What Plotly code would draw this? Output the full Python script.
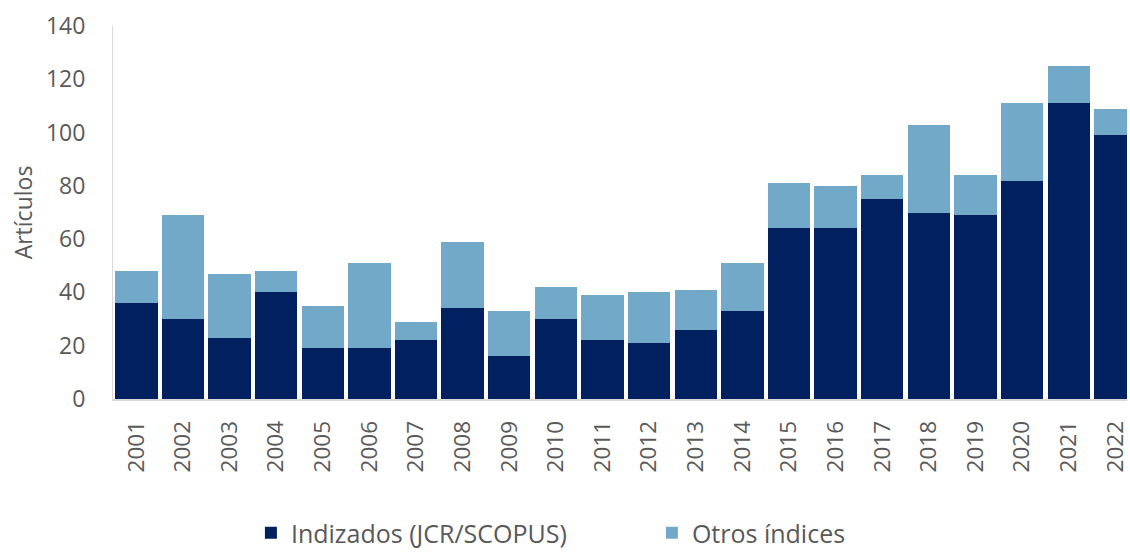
import plotly.graph_objects as go

years = [str(y) for y in range(2001, 2023)]
indizados = [36, 30, 23, 40, 19, 19, 22, 34, 16, 30, 22, 21, 26, 33, 64, 64, 75, 70, 69, 82, 111, 99]
otros = [12, 39, 24, 8, 16, 32, 7, 25, 17, 12, 17, 19, 15, 18, 17, 16, 9, 33, 15, 29, 14, 10]

DARK = "#002060"
LIGHT = "#72A9C9"
TXT = "#595959"
FONT = "Open Sans"

fig = go.Figure()
fig.add_trace(go.Bar(x=years, y=indizados, name="Indizados (JCR/SCOPUS)",
                     marker=dict(color=DARK, line=dict(width=0))))
fig.add_trace(go.Bar(x=years, y=otros, name="Otros índices",
                     marker=dict(color=LIGHT, line=dict(width=0))))

fig.update_layout(
    width=1130,
    height=556,
    autosize=False,
    barmode="stack",
    bargap=0.09,
    plot_bgcolor="white",
    paper_bgcolor="white",
    margin=dict(l=113, r=0, t=26, b=150),
    font=dict(family=FONT, color=TXT, size=22),
    showlegend=True,
    legend=dict(orientation="h", x=0.136, xanchor="left", y=-0.36, yanchor="middle",
                font=dict(size=25, color=TXT, family=FONT), entrywidth=356,
                traceorder="normal"),
    xaxis=dict(type="category", range=[-0.5, 21.25], tickangle=-90,
               showline=True, linecolor="#D9D9D9", linewidth=2,
               showgrid=False, ticks="", ticklabelstandoff=11,
               tickfont=dict(size=22.5, color=TXT)),
    yaxis=dict(range=[0, 140], dtick=20, showgrid=False, zeroline=False,
               showline=True, linecolor="#D9D9D9", linewidth=1,
               ticks="", ticklabelstandoff=22, tickfont=dict(size=23, color=TXT),
               title=dict(text="Artículos", font=dict(size=23, color=TXT), standoff=6)),
)

post = ("document.documentElement.style.margin='0';"
        "document.body.style.margin='0';"
        "document.body.style.overflow='hidden';"
        "document.documentElement.style.overflow='hidden';")

fig.write_html("out.html", post_script=post, config={"displayModeBar": False})
